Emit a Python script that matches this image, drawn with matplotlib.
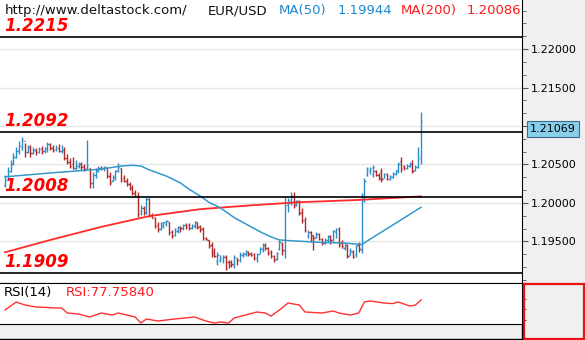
import numpy as np
import matplotlib
matplotlib.use("Agg")
import matplotlib.pyplot as plt
import matplotlib.transforms as mtransforms
from matplotlib.patches import Rectangle
from matplotlib.lines import Line2D
from matplotlib.ticker import FixedLocator, FixedFormatter, MultipleLocator

# EUR/USD bars (open, high, low, close)
opens = [
    1.2024, 1.2030, 1.2041, 1.2051, 1.2060, 1.2068, 1.2074, 1.2080, 1.2066, 1.2073,
    1.2065, 1.2069, 1.2066, 1.2070, 1.2068, 1.2071, 1.2076, 1.2072, 1.2069, 1.2071,
    1.2067, 1.2069, 1.2058, 1.2053, 1.2050, 1.2046, 1.2048, 1.2051, 1.2048, 1.2045,
    1.2046, 1.2026, 1.2036, 1.2043, 1.2046, 1.2045, 1.2047, 1.2035, 1.2029, 1.2034,
    1.2042, 1.2046, 1.2033, 1.2029, 1.2025, 1.2020, 1.2013, 1.2009, 1.1989, 1.1994,
    1.1988, 1.2005, 1.1984, 1.1981, 1.1972, 1.1966, 1.1970, 1.1973, 1.1975, 1.1962,
    1.1958, 1.1964, 1.1969, 1.1967, 1.1971, 1.1972, 1.1968, 1.1970, 1.1975, 1.1970,
    1.1966, 1.1955, 1.1952, 1.1945, 1.1936, 1.1925, 1.1926, 1.1926, 1.1930, 1.1924,
    1.1924, 1.1920, 1.1928, 1.1926, 1.1932, 1.1934, 1.1937, 1.1935, 1.1934, 1.1929,
    1.1934, 1.1940, 1.1945, 1.1941, 1.1936, 1.1931, 1.1927, 1.1940, 1.1947, 1.1938,
    1.1997, 1.2003, 1.2009, 1.1997, 1.2002, 1.1988, 1.1978, 1.1957, 1.1962, 1.1958,
    1.1956, 1.1960, 1.1953, 1.1948, 1.1952, 1.1957, 1.1952, 1.1962, 1.1966, 1.1948,
    1.1941, 1.1945, 1.1933, 1.1937, 1.1932, 1.1945, 1.1940, 1.2009, 1.2037, 1.2041,
    1.2038, 1.2042, 1.2037, 1.2040, 1.2033, 1.2038, 1.2031, 1.2034, 1.2038, 1.2042,
    1.2054, 1.2048, 1.2045, 1.2048, 1.2051, 1.2043, 1.2047, 1.2057,
]
highs = [
    1.2036, 1.2047, 1.2056, 1.2065, 1.2073, 1.2081, 1.2086, 1.2078, 1.2075, 1.2075,
    1.2073, 1.2072, 1.2073, 1.2074, 1.2073, 1.2079, 1.2078, 1.2075, 1.2075, 1.2077,
    1.2075, 1.2073, 1.2063, 1.2059, 1.2060, 1.2056, 1.2053, 1.2053, 1.2051, 1.2082,
    1.2046, 1.2040, 1.2046, 1.2048, 1.2048, 1.2048, 1.2046, 1.2040, 1.2036, 1.2043,
    1.2052, 1.2046, 1.2036, 1.2033, 1.2027, 1.2023, 1.2017, 1.2014, 1.1997, 1.1996,
    1.2008, 1.2007, 1.1987, 1.1982, 1.1975, 1.1975, 1.1975, 1.1978, 1.1975, 1.1965,
    1.1968, 1.1970, 1.1970, 1.1973, 1.1974, 1.1974, 1.1973, 1.1977, 1.1975, 1.1971,
    1.1969, 1.1956, 1.1952, 1.1949, 1.1942, 1.1936, 1.1932, 1.1932, 1.1932, 1.1926,
    1.1926, 1.1932, 1.1929, 1.1936, 1.1936, 1.1939, 1.1938, 1.1936, 1.1935, 1.1935,
    1.1943, 1.1948, 1.1948, 1.1943, 1.1939, 1.1932, 1.1936, 1.1952, 1.1949, 1.2008,
    1.2007, 1.2014, 1.2014, 1.2004, 1.2004, 1.1994, 1.1982, 1.1965, 1.1964, 1.1958,
    1.1962, 1.1961, 1.1955, 1.1955, 1.1958, 1.1958, 1.1965, 1.1968, 1.1969, 1.1952,
    1.1948, 1.1947, 1.1942, 1.1939, 1.1945, 1.1949, 1.2013, 1.2033, 1.2047, 1.2047,
    1.2049, 1.2043, 1.2039, 1.2046, 1.2039, 1.2039, 1.2036, 1.2040, 1.2043, 1.2053,
    1.2060, 1.2049, 1.2051, 1.2053, 1.2056, 1.2049, 1.2073, 1.2118,
]
lows = [
    1.2021, 1.2030, 1.2040, 1.2049, 1.2058, 1.2064, 1.2069, 1.2060, 1.2065, 1.2060,
    1.2064, 1.2062, 1.2065, 1.2064, 1.2065, 1.2066, 1.2069, 1.2066, 1.2067, 1.2066,
    1.2065, 1.2056, 1.2051, 1.2046, 1.2044, 1.2043, 1.2046, 1.2043, 1.2042, 1.2044,
    1.2020, 1.2020, 1.2033, 1.2040, 1.2043, 1.2042, 1.2033, 1.2023, 1.2029, 1.2030,
    1.2040, 1.2027, 1.2027, 1.2022, 1.2017, 1.2010, 1.2008, 1.1982, 1.1985, 1.1985,
    1.1986, 1.1982, 1.1980, 1.1968, 1.1962, 1.1965, 1.1967, 1.1970, 1.1958, 1.1955,
    1.1957, 1.1961, 1.1962, 1.1965, 1.1966, 1.1965, 1.1966, 1.1968, 1.1966, 1.1962,
    1.1952, 1.1952, 1.1942, 1.1930, 1.1930, 1.1919, 1.1923, 1.1922, 1.1913, 1.1916,
    1.1917, 1.1916, 1.1919, 1.1923, 1.1930, 1.1931, 1.1931, 1.1931, 1.1926, 1.1923,
    1.1935, 1.1936, 1.1939, 1.1932, 1.1929, 1.1923, 1.1926, 1.1939, 1.1932, 1.1929,
    1.1988, 1.1997, 1.1994, 1.1996, 1.1984, 1.1974, 1.1962, 1.1955, 1.1949, 1.1939,
    1.1955, 1.1952, 1.1945, 1.1947, 1.1949, 1.1947, 1.1950, 1.1955, 1.1943, 1.1942,
    1.1939, 1.1929, 1.1932, 1.1929, 1.1930, 1.1936, 1.1935, 1.2001, 1.2035, 1.2038,
    1.2034, 1.2035, 1.2030, 1.2027, 1.2032, 1.2030, 1.2030, 1.2032, 1.2036, 1.2039,
    1.2040, 1.2043, 1.2044, 1.2047, 1.2039, 1.2042, 1.2045, 1.2050,
]
closes = [
    1.2030, 1.2041, 1.2051, 1.2060, 1.2068, 1.2074, 1.2082, 1.2066, 1.2073, 1.2065,
    1.2069, 1.2066, 1.2070, 1.2068, 1.2071, 1.2076, 1.2072, 1.2069, 1.2071, 1.2067,
    1.2069, 1.2058, 1.2053, 1.2048, 1.2046, 1.2050, 1.2051, 1.2047, 1.2044, 1.2049,
    1.2026, 1.2036, 1.2043, 1.2046, 1.2045, 1.2047, 1.2035, 1.2026, 1.2034, 1.2042,
    1.2047, 1.2030, 1.2029, 1.2025, 1.2020, 1.2013, 1.2009, 1.1986, 1.1994, 1.1987,
    1.2005, 1.1984, 1.1981, 1.1970, 1.1966, 1.1974, 1.1975, 1.1977, 1.1962, 1.1957,
    1.1966, 1.1969, 1.1967, 1.1971, 1.1969, 1.1968, 1.1971, 1.1975, 1.1969, 1.1966,
    1.1955, 1.1953, 1.1944, 1.1934, 1.1931, 1.1932, 1.1929, 1.1931, 1.1915, 1.1919,
    1.1921, 1.1930, 1.1926, 1.1934, 1.1935, 1.1938, 1.1934, 1.1933, 1.1929, 1.1934,
    1.1941, 1.1945, 1.1941, 1.1935, 1.1931, 1.1926, 1.1935, 1.1949, 1.1939, 1.1997,
    1.2004, 1.2009, 1.1997, 1.2003, 1.1987, 1.1978, 1.1965, 1.1961, 1.1957, 1.1955,
    1.1960, 1.1953, 1.1948, 1.1952, 1.1957, 1.1952, 1.1964, 1.1966, 1.1946, 1.1944,
    1.1946, 1.1931, 1.1938, 1.1930, 1.1944, 1.1940, 1.2009, 1.2029, 1.2044, 1.2046,
    1.2047, 1.2036, 1.2032, 1.2031, 1.2038, 1.2031, 1.2035, 1.2039, 1.2043, 1.2051,
    1.2045, 1.2045, 1.2049, 1.2051, 1.2042, 1.2047, 1.2060, 1.21069,
]

# moving averages, read at a few bar positions
ma50_idx = [0, 16, 34, 41, 45, 48, 51, 57, 62, 65, 69, 72, 76, 81, 87, 91, 94, 97,
            101, 111, 120, 126, 147]
ma50_val = [1.2034, 1.2039, 1.2044, 1.2048, 1.2049, 1.2048, 1.2043, 1.2035, 1.2026,
            1.2018, 1.2009, 1.2001, 1.1994, 1.1981, 1.1969, 1.1961, 1.1956, 1.1952,
            1.1951, 1.1949, 1.1948, 1.1946, 1.19944]
ma200_idx = [0, 16, 34, 51, 69, 87, 104, 125, 147]
ma200_val = [1.1936, 1.1952, 1.1969, 1.1983, 1.1992, 1.1997, 1.2001, 1.2004, 1.20086]

# RSI(14)
rsi_idx = [0, 4, 7, 11, 15, 18, 20, 22, 26, 30, 34, 38, 40, 43, 46, 48, 50, 54, 60, 67,
           71, 74, 76, 79, 81, 85, 89, 92, 94, 97, 100, 104, 106, 112, 116, 118, 122, 125,
           127, 129, 134, 137, 139, 143, 145, 147]
rsi_val = [58.8, 74.0, 68.3, 64.5, 63.5, 62.6, 62.6, 53.1, 51.2, 45.5, 53.1, 49.3, 53.1,
           49.3, 45.5, 34.1, 41.7, 37.9, 41.7, 45.5, 37.9, 34.1, 36.0, 34.1, 43.6, 49.3,
           55.0, 53.1, 47.4, 58.8, 72.1, 68.3, 55.0, 53.1, 56.9, 53.1, 49.3, 53.1, 74.0,
           75.9, 72.1, 71.0, 74.0, 66.4, 68.0, 77.76]

levels = [1.2215, 1.2092, 1.2008, 1.1909]
price_ticks = [1.195, 1.200, 1.205, 1.210, 1.215, 1.220]
# 1.21000 sits under the last-price tag, so it has no label
price_labels = ['1.19500', '1.20000', '1.20500', '', '1.21500', '1.22000']

BLUE = '#2b8cc8'
RED = '#b02828'
W, H = 585, 340


def px_rect(x0, y0, x1, y1):
    return [x0 / W, 1 - y1 / H, (x1 - x0) / W, (y1 - y0) / H]


fig = plt.figure(figsize=(W / 100, H / 100), dpi=100, facecolor='#f0f0f0')
ax = fig.add_axes(px_rect(0, 0, 522, 283))
ax_rsi = fig.add_axes(px_rect(0, 283, 522, 324), sharex=ax)

o = np.array(opens)
hi = np.array(highs)
lo = np.array(lows)
c = np.array(closes)
idx = np.arange(len(c))
cols = np.where(c >= o, BLUE, RED)

ax.grid(axis='y', color='#e6e6e6', lw=1)
ax.set_axisbelow(True)
ax.vlines(idx, lo, hi, colors=cols, lw=1)
ax.hlines(o, idx - 0.45, idx, colors=cols, lw=1)
ax.hlines(c, idx, idx + 0.45, colors=cols, lw=1)
ax.plot(ma200_idx, ma200_val, color='#ff2a2a', lw=1.3)
ax.plot(ma50_idx, ma50_val, color='#3399cc', lw=1.1)

label_tr = mtransforms.offset_copy(ax.get_yaxis_transform(), fig=fig, y=4.3, units='points')
for lv in levels:
    ax.axhline(lv, color='black', lw=1.2)
    ax.text(0.008, lv, f'{lv:.4f}', transform=label_tr, color='red', fontsize=12,
            fontweight='bold', fontstyle='italic', va='baseline', ha='left')

ax.set_xlim(-1.77, 182.7)
ax.set_ylim(1.18961, 1.226364)
ax.yaxis.tick_right()
ax.yaxis.set_major_locator(FixedLocator(price_ticks))
ax.yaxis.set_major_formatter(FixedFormatter(price_labels))
ax.yaxis.set_minor_locator(MultipleLocator(0.005 / 3))
ax.tick_params(axis='y', which='both', direction='out', color='#555555', labelsize=8, pad=2)
ax.tick_params(axis='y', which='major', length=4)
ax.tick_params(axis='y', which='minor', length=3)
ax.tick_params(axis='x', bottom=False, labelbottom=False)
for s in ['left', 'top']:
    ax.spines[s].set_visible(False)
ax.spines['right'].set_color('black')
ax.spines['bottom'].set_color('black')

# last price tag
tag_tr = mtransforms.offset_copy(ax.get_yaxis_transform(), fig=fig, y=-2.5, units='points')
ax.text(1.0594, 1.21069, '1.21069', transform=tag_tr, ha='center', va='top',
        fontsize=8, clip_on=False,
        bbox=dict(boxstyle='square,pad=0.3', fc='#87ceeb', ec='#3a6d8c', lw=0.8))

# header
hy = 1 - 10.5 / H
fig.text(5 / W, hy, 'http://www.deltastock.com/', fontsize=9.5, va='center', color='#111111')
fig.text(208 / W, hy, 'EUR/USD', fontsize=9.5, va='center', color='#111111')
fig.text(279 / W, hy, 'MA(50)', fontsize=9.5, va='center', color='#1e88d0')
fig.text(338 / W, hy, '1.19944', fontsize=9.5, va='center', color='#1e88d0')
fig.text(401 / W, hy, 'MA(200)', fontsize=9.5, va='center', color='#ff1a1a')
fig.text(467 / W, hy, '1.20086', fontsize=9.5, va='center', color='#ff1a1a')

# RSI panel
ax_rsi.plot(rsi_idx, rsi_val, color='#ff3030', lw=1)
ax_rsi.set_ylim(32.2, 110.1)
ax_rsi.yaxis.tick_right()
ax_rsi.set_yticks([40, 60, 80])
ax_rsi.tick_params(axis='y', direction='out', length=3, color='#555555', labelright=False)
ax_rsi.tick_params(axis='x', bottom=False, labelbottom=False)
ax_rsi.spines['left'].set_visible(False)
for s in ['top', 'bottom', 'right']:
    ax_rsi.spines[s].set_color('black')
ax_rsi.text(4 / 522, 0.76, 'RSI(14)', transform=ax_rsi.transAxes, fontsize=9.5, va='center')
ax_rsi.text(66 / 522, 0.76, 'RSI:77.75840', transform=ax_rsi.transAxes, fontsize=9.5,
            va='center', color='#ff1a1a')

# frame bits around the panels
fig.add_artist(Line2D([0, 522 / W], [1 / H, 1 / H], transform=fig.transFigure, color='black', lw=1))
fig.add_artist(Line2D([522 / W, 522 / W], [0, 1 - 324 / H], transform=fig.transFigure,
                      color='black', lw=1))
fig.add_artist(Rectangle((523.5 / W, 1.5 / H), 60 / W, 54.5 / H, transform=fig.transFigure,
                         fill=False, ec='#ee1111', lw=1.6))

fig.savefig('out.png', dpi=100, facecolor=fig.get_facecolor())
